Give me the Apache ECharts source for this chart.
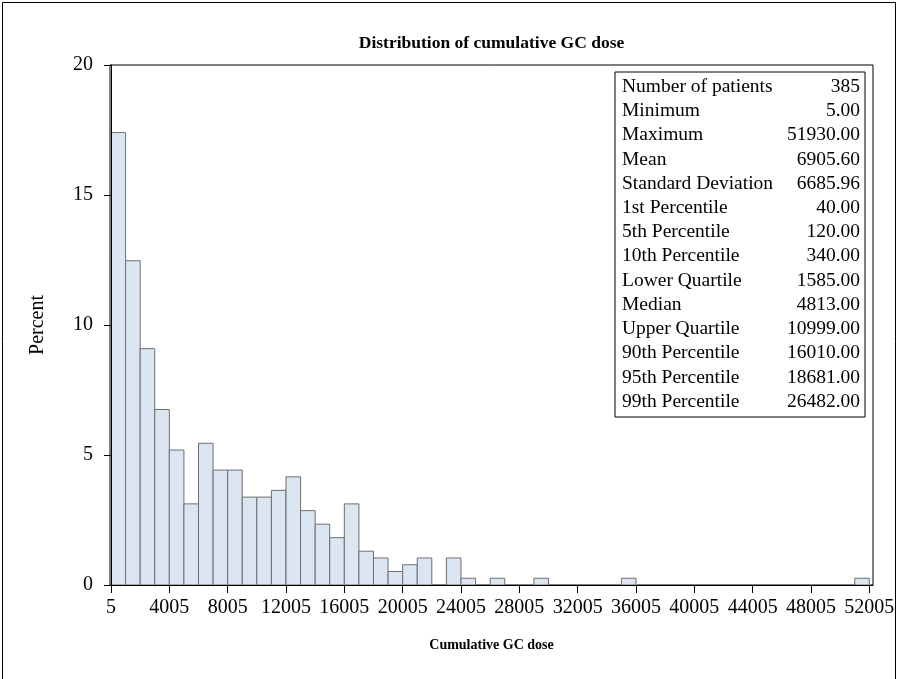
<!DOCTYPE html>
<html>
<head>
<meta charset="utf-8">
<script src="https://cdn.jsdelivr.net/npm/echarts@6/dist/echarts.min.js"></script>
<style>
html,body{margin:0;padding:0;background:#fff;}
#chart{width:899px;height:679px;}
</style>
</head>
<body>
<div id="chart"></div>
<script>
// ---- data ----
var binWidth = 1000;
var binStarts = [];
for (var i = 0; i < 52; i++) binStarts.push(5 + i * binWidth);
var percents = [
  17.40, 12.47, 9.09, 6.75, 5.19, 3.12, 5.45, 4.42, 4.42, 3.38,
  3.38, 3.64, 4.16, 2.86, 2.34, 1.82, 3.12, 1.30, 1.04, 0.52,
  0.78, 1.04, 0, 1.04, 0.26, 0, 0.26, 0, 0, 0.26,
  0, 0, 0, 0, 0, 0.26, 0, 0, 0, 0,
  0, 0, 0, 0, 0, 0, 0, 0, 0, 0,
  0, 0.26
];
var xTickValues = [5, 4005, 8005, 12005, 16005, 20005, 24005, 28005, 32005, 36005, 40005, 44005, 48005, 52005];
var yTickValues = [0, 5, 10, 15, 20];
var statLabels = ['Number of patients', 'Minimum', 'Maximum', 'Mean', 'Standard Deviation',
  '1st Percentile', '5th Percentile', '10th Percentile', 'Lower Quartile', 'Median',
  'Upper Quartile', '90th Percentile', '95th Percentile', '99th Percentile'];
var statValues = ['385', '5.00', '51930.00', '6905.60', '6685.96', '40.00', '120.00', '340.00',
  '1585.00', '4813.00', '10999.00', '16010.00', '18681.00', '26482.00'];
var titleText = 'Distribution of cumulative GC dose';
var xName = 'Cumulative GC dose';
var yName = 'Percent';

// ---- chart ----
var FONT = '"Liberation Serif", "Times New Roman", serif';
var histData = binStarts.map(function (s, i) { return [s, s + binWidth, percents[i]]; });

var gridL = 110, gridT = 65, gridR = 873, gridB = 585;

var tableX = 615, tableY = 72, tableW = 250, tableH = 345;
var rowStep = 24.23, firstRowY = 86.7;
var tableChildren = [{
  type: 'rect',
  shape: { x: tableX, y: tableY, width: tableW, height: tableH },
  style: { fill: '#fff', stroke: '#000', lineWidth: 1 }
}];
statLabels.forEach(function (lab, i) {
  tableChildren.push({
    type: 'text', x: tableX + 7, y: firstRowY + i * rowStep,
    style: { text: lab, font: '19.5px ' + FONT, fill: '#000', textAlign: 'left', textVerticalAlign: 'middle' }
  });
  tableChildren.push({
    type: 'text', x: tableX + tableW - 5, y: firstRowY + i * rowStep,
    style: { text: statValues[i], font: '19.5px ' + FONT, fill: '#000', textAlign: 'right', textVerticalAlign: 'middle' }
  });
});

var chart = echarts.init(document.getElementById('chart'), null, { renderer: 'canvas' });
chart.setOption({
  animation: false,
  backgroundColor: '#fff',
  grid: {
    left: gridL, top: gridT, right: 899 - gridR, bottom: 679 - gridB,
    show: true, borderColor: '#000', borderWidth: 1, backgroundColor: 'transparent'
  },
  xAxis: {
    type: 'value',
    z: 10,
    min: -64, max: 52259,
    name: xName,
    nameLocation: 'middle',
    nameGap: 53,
    nameTextStyle: { fontFamily: FONT, fontSize: 14, fontWeight: 'bold', color: '#000' },
    axisLine: { show: true, lineStyle: { color: '#000', width: 1 } },
    axisTick: { show: true, length: 8, lineStyle: { color: '#000' }, customValues: xTickValues },
    axisLabel: {
      fontFamily: FONT, fontSize: 20, color: '#000', margin: 13, customValues: xTickValues,
      formatter: function (v) { return String(Math.round(v)); }
    },
    splitLine: { show: false }
  },
  yAxis: {
    type: 'value',
    z: 10,
    min: 0, max: 20, interval: 5,
    name: yName,
    nameLocation: 'middle',
    nameGap: 62,
    nameTextStyle: { fontFamily: FONT, fontSize: 20, color: '#000' },
    axisLine: { show: true, lineStyle: { color: '#000', width: 1 } },
    axisTick: { show: true, length: 7, lineStyle: { color: '#000' } },
    axisLabel: { fontFamily: FONT, fontSize: 20, color: '#000', margin: 17 },
    splitLine: { show: false }
  },
  series: [{
    type: 'custom',
    z: 1,
    data: histData,
    encode: { x: [0, 1], y: 2 },
    clip: true,
    renderItem: function (params, api) {
      var v = api.value(2);
      if (!v) return null;
      var p0 = api.coord([api.value(0), 0]);
      var p1 = api.coord([api.value(1), v]);
      return {
        type: 'rect',
        shape: { x: p0[0], y: p1[1], width: p1[0] - p0[0], height: p0[1] - p1[1] },
        style: { fill: '#dce6f2', stroke: '#6e6e6e', lineWidth: 1 }
      };
    }
  }],
  graphic: [
    {
      type: 'rect', z: 100, silent: true,
      shape: { x: 2.5, y: 2.5, width: 893, height: 720 },
      style: { fill: 'none', stroke: '#000', lineWidth: 1 }
    },
    {
      type: 'text', z: 100,
      x: (gridL + gridR) / 2, y: 43,
      style: { text: titleText, font: 'bold 17.5px ' + FONT, fill: '#000', textAlign: 'center', textVerticalAlign: 'middle' }
    },
    { type: 'group', z: 100, children: tableChildren }
  ]
});
</script>
</body>
</html>
